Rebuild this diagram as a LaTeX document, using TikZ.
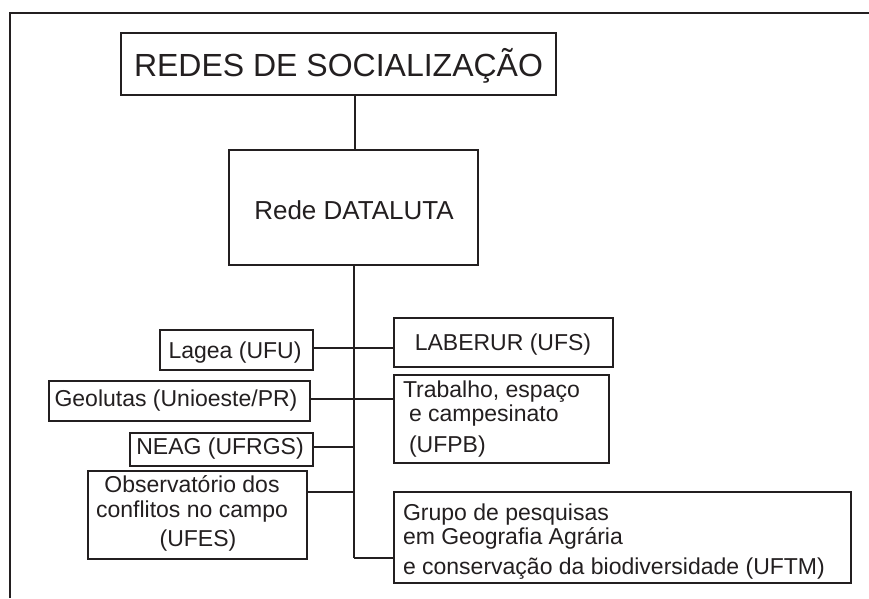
\documentclass[tikz,border=0pt]{standalone}
\usepackage{fontspec}
\setmainfont{Liberation Sans}
\definecolor{ink}{HTML}{231F20}
\tikzset{
  boxnode/.style={draw=ink, line width=2.6pt, inner sep=0pt, outer sep=0pt, rectangle},
  lbl/.style={text=ink, inner sep=0pt, outer sep=0pt, font=\fontsize{23}{27}\selectfont},
  hconn/.style={draw=ink, line width=2.6pt},
  vconn/.style={draw=ink, line width=2pt},
}
\begin{document}
\begin{tikzpicture}[x=1pt,y=-1pt]
\useasboundingbox (0,0) rectangle (869,598);
\fill[white] (0,0) rectangle (869,598);
% outer frame (top and left edges)
\draw[ink, line width=2.2pt] (10,598) -- (10,13) -- (869,13);

% boxes
\node[boxnode, minimum width=435pt, minimum height=62pt] (title) at (338.5,64) {};
\node[boxnode, minimum width=249pt, minimum height=115pt] (data) at (353.5,207.5) {};
\node[boxnode, minimum width=153pt, minimum height=40pt] (lagea) at (236.5,350) {};
\node[boxnode, minimum width=219pt, minimum height=49pt] (laberur) at (503.5,342.5) {};
\node[boxnode, minimum width=261pt, minimum height=40pt] (geo) at (179.5,401) {};
\node[boxnode, minimum width=215pt, minimum height=88pt] (trab) at (501.5,419) {};
\node[boxnode, minimum width=183pt, minimum height=33pt] (neag) at (221.5,449.5) {};
\node[boxnode, minimum width=219pt, minimum height=88pt] (obs) at (197.5,515) {};
\node[boxnode, minimum width=457pt, minimum height=91pt] (grupo) at (622.5,537.5) {};

% texts
\node[lbl, font=\fontsize{32}{36}\selectfont, anchor=base] (titletxt) at (338.5,76.5) {REDES DE SOCIALIZAÇÃO};
\node[lbl, font=\fontsize{26}{30}\selectfont, anchor=base] (datatxt) at (354,219) {Rede DATALUTA};
\node[lbl, anchor=base] (lageatxt) at (235,358) {Lagea (UFU)};
\node[lbl, anchor=base] (laberurtxt) at (503,350) {LABERUR (UFS)};
\node[lbl, anchor=base] (geotxt) at (176,406) {Geolutas (Unioeste/PR)};
\node[lbl, anchor=base] (neagtxt) at (220,454) {NEAG (UFRGS)};
\node[lbl, anchor=base west] (trab1) at (403,397) {Trabalho, espaço};
\node[lbl, anchor=base west] (trab2) at (409,421) {e campesinato};
\node[lbl, anchor=base west] (trab3) at (409,452) {(UFPB)};
\node[lbl, anchor=base] (obs1) at (192,492) {Observatório dos};
\node[lbl, anchor=base] (obs2) at (192,517) {conflitos no campo};
\node[lbl, anchor=base] (obs3) at (198,546) {(UFES)};
\node[lbl, anchor=base west] (grupo1) at (403,520) {Grupo de pesquisas};
\node[lbl, anchor=base west] (grupo2) at (403,544) {em Geografia Agrária};
\node[lbl, anchor=base west] (grupo3) at (403,574) {e conservação da biodiversidade (UFTM)};

% connectors
\coordinate (trunkend) at (354,558);
\draw[vconn] (title.south -| 355,0) -- (data.north -| 355,0);
\draw[vconn] (data.south -| trunkend) -- (trunkend);
\draw[hconn] (trunkend) -- (grupo.west |- trunkend);
\draw[hconn] (lagea.east |- 0,348) -- (laberur.west |- 0,348);
\draw[hconn] (geo.east |- 0,399) -- (trab.west |- 0,399);
\draw[hconn] (neag.east |- 0,447) -- (trunkend |- 0,447);
\draw[hconn] (obs.east |- 0,492) -- (trunkend |- 0,492);
\end{tikzpicture}
\end{document}
